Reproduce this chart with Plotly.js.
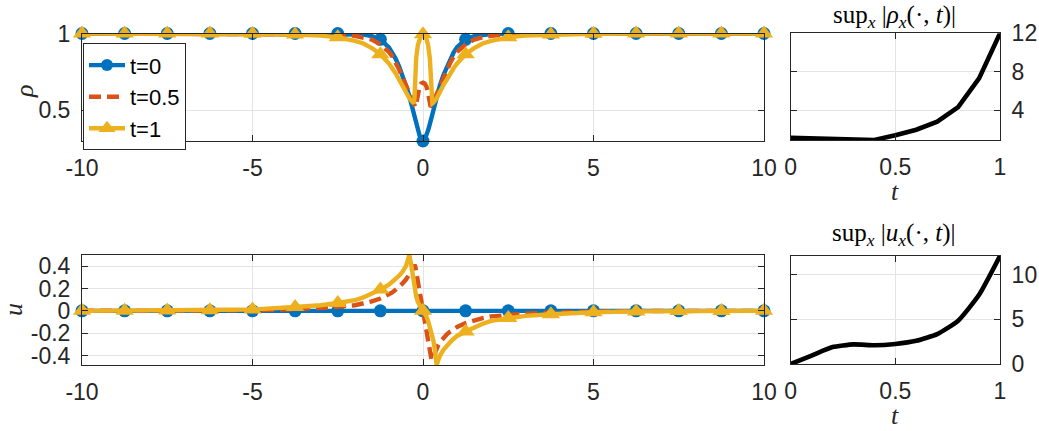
<!DOCTYPE html>
<html><head><meta charset="utf-8">
<script src="https://cdn.plot.ly/plotly-3.0.1.min.js"></script>
<style>html,body{margin:0;padding:0;background:#fff}#chart{width:1039px;height:431px}</style>
</head><body><div id="chart"></div>
<script>
// spatial grid (x)
const xGrid = [-10,-8.75,-7.5,-6.25,-5,-3.75,-3,-2.5,-2,-1.75,-1.5,-1.25,-1,-0.9,-0.8,-0.7,-0.6,-0.5,-0.45,-0.4,-0.35,-0.3,-0.275,-0.25,-0.225,-0.2,-0.15,-0.1,-0.05,
  0,0.05,0.1,0.15,0.2,0.225,0.25,0.275,0.3,0.35,0.4,0.45,0.5,0.6,0.7,0.8,0.9,1,1.25,1.5,1.75,2,2.5,3,3.75,5,6.25,7.5,8.75,10];

// density rho at t = 0, 0.5, 1
const rhoT0 = [1,1,1,1,1,1,1,0.9995,0.997,0.993,0.983,0.962,0.910,0.878,0.835,0.785,0.730,0.665,0.630,0.590,0.545,0.500,0.478,0.455,0.432,0.410,0.370,0.335,0.310,
  0.300,0.310,0.335,0.370,0.410,0.432,0.455,0.478,0.500,0.545,0.590,0.630,0.665,0.730,0.785,0.835,0.878,0.910,0.962,0.983,0.993,0.997,0.9995,1,1,1,1,1,1,1];
const rhoT05 = [1,1,1,1,1,0.999,0.997,0.994,0.985,0.976,0.960,0.930,0.880,0.850,0.810,0.765,0.715,0.665,0.640,0.615,0.585,0.555,0.540,0.527,0.522,0.540,0.610,0.655,0.675,
  0.680,0.675,0.655,0.610,0.540,0.522,0.527,0.540,0.555,0.585,0.615,0.640,0.665,0.715,0.765,0.810,0.850,0.880,0.930,0.960,0.976,0.985,0.994,0.997,0.999,1,1,1,1,1];
const rhoT1 = [1,1,1,1,0.998,0.993,0.986,0.975,0.952,0.935,0.905,0.865,0.805,0.775,0.740,0.700,0.665,0.625,0.600,0.578,0.560,0.548,0.545,0.580,0.720,0.840,0.925,0.965,0.990,
  0.995,0.990,0.965,0.925,0.840,0.720,0.580,0.545,0.548,0.560,0.578,0.600,0.625,0.665,0.700,0.740,0.775,0.805,0.865,0.905,0.935,0.952,0.975,0.986,0.993,0.998,1,1,1,1];

// velocity u at t = 0, 0.5, 1
const uT0 = [0,0,0,0,0,0,0,0,0,0,0,0,0,0,0,0,0,0,0,0,0,0,0,0,0,0,0,0,0,
  0,0,0,0,0,0,0,0,0,0,0,0,0,0,0,0,0,0,0,0,0,0,0,0,0,0,0,0,0,0];
const uT05 = [0,0,0.001,0.002,0.005,0.015,0.025,0.035,0.05,0.065,0.085,0.11,0.145,0.165,0.19,0.215,0.245,0.28,0.30,0.325,0.35,0.38,0.40,0.41,0.395,0.36,0.26,0.175,0.09,
  0,-0.09,-0.18,-0.28,-0.38,-0.42,-0.44,-0.43,-0.41,-0.37,-0.335,-0.305,-0.28,-0.24,-0.21,-0.185,-0.165,-0.145,-0.11,-0.085,-0.065,-0.05,-0.035,-0.025,-0.015,-0.005,-0.002,-0.001,0,0];
const uT1 = [0,0.001,0.002,0.005,0.012,0.035,0.05,0.07,0.095,0.12,0.15,0.19,0.235,0.26,0.285,0.315,0.35,0.40,0.45,0.50,0.42,0.31,0.26,0.21,0.165,0.13,0.08,0.045,0.02,
  0,-0.02,-0.05,-0.09,-0.14,-0.165,-0.19,-0.22,-0.26,-0.35,-0.485,-0.44,-0.40,-0.35,-0.31,-0.28,-0.25,-0.225,-0.185,-0.145,-0.115,-0.09,-0.065,-0.045,-0.03,-0.012,-0.005,-0.002,-0.001,0];

// time history
const tVals = [0,0.1,0.2,0.3,0.4,0.5,0.6,0.7,0.8,0.9,1];
const supRhoX = [1.10,1.06,1.01,0.96,0.88,1.38,1.95,2.80,4.30,7.30,12.0];
const supUX = [0,0.95,1.9,2.2,2.1,2.25,2.6,3.35,4.85,7.75,12.1];

// labels
const seriesNames = ['t=0','t=0.5','t=1'];
const xTicks = [-10,-5,0,5,10];
const xTickText = ['-10','-5','0','5','10'];
const rhoTicks = [0.5,1];
const rhoTickText = ['0.5','1'];
const uTicks = [-0.4,-0.2,0,0.2,0.4];
const uTickText = ['-0.4','-0.2','0','0.2','0.4'];
const tTicks = [0,0.5,1];
const tTickText = ['0','0.5','1'];
const supRhoTicks = [4,8,12];
const supUTicks = [0,5,10];

const colors = ['#0072BD','#D95319','#EDB120'];
const dashes = ['solid','12px,6px','solid'];
const symbols = ['circle','circle','triangle-up'];
const msizes = [13,0,16];
const LW = 4.4;

function onMarkerGrid(x){ return Math.abs(x/1.25 - Math.round(x/1.25)) < 1e-9; }

const traces = [];
function addSeries(ys, i, xa, ya){
  traces.push({x:xGrid, y:ys, xaxis:xa, yaxis:ya, mode:'lines', showlegend:false, cliponaxis:false,
    line:{color:colors[i], width:LW, dash:dashes[i]}, hoverinfo:'skip'});
  if (msizes[i] > 0) {
    const mx = [], my = [];
    xGrid.forEach((x,k)=>{ if(onMarkerGrid(x)){ mx.push(x); my.push(ys[k]); } });
    traces.push({x:mx, y:my, xaxis:xa, yaxis:ya, mode:'markers', showlegend:false, cliponaxis:false,
      marker:{color:colors[i], size:msizes[i], symbol:symbols[i]}, hoverinfo:'skip'});
  }
}
const rhoSets = [rhoT0, rhoT05, rhoT1];
const uSets = [uT0, uT05, uT1];
rhoSets.forEach((ys,i)=>addSeries(ys,i,'x','y'));
uSets.forEach((ys,i)=>addSeries(ys,i,'x2','y2'));
// legend entries
seriesNames.forEach((n,i)=>{
  const tr = {x:[null], y:[null], xaxis:'x', yaxis:'y', name:n, mode: msizes[i]>0 ? 'lines+markers':'lines',
    line:{color:colors[i], width:LW, dash:dashes[i]}};
  if (msizes[i]>0) tr.marker = {color:colors[i], size:msizes[i]-1, symbol:symbols[i]};
  traces.push(tr);
});
traces.push({x:tVals, y:supRhoX, xaxis:'x3', yaxis:'y3', mode:'lines', showlegend:false, cliponaxis:false,
  line:{color:'#000', width:4.6}});
traces.push({x:tVals, y:supUX, xaxis:'x4', yaxis:'y4', mode:'lines', showlegend:false, cliponaxis:false,
  line:{color:'#000', width:4.6, shape:'spline', smoothing:0.5}});

const allRho = rhoT0.concat(rhoT05, rhoT1);
const allU = uT0.concat(uT05, uT1);

const tickFont = {family:'"Liberation Sans", Arial, sans-serif', size:23, color:'#262626'};
function ax(extra){
  return Object.assign({showline:true, mirror:'ticks', linecolor:'#262626', linewidth:1,
    ticks:'inside', ticklen:6, tickcolor:'#262626', tickwidth:1, showgrid:true, gridcolor:'#e4e4e4', gridwidth:1,
    zeroline:false, tickfont:tickFont, tickmode:'array', fixedrange:true}, extra);
}
const xL = [82/1039, 764/1039];
const xR = [790.7/1039, 1000/1039];
const serif = '"Liberation Serif", "DejaVu Serif", serif';

const layout = {
  width:1039, height:431, margin:{l:0,r:0,t:0,b:0}, paper_bgcolor:'#fff', plot_bgcolor:'#fff',
  showlegend:true,
  legend:{x:83/1039, y:1-43.3/431, xanchor:'left', yanchor:'top', bgcolor:'#fff', bordercolor:'#262626', borderwidth:1,
    font:{family:'"Liberation Sans", Arial, sans-serif', size:22, color:'#000'}, itemsizing:'trace', tracegroupgap:0, itemwidth:36},
  xaxis: ax({domain:xL, anchor:'y', range:[-10,10], tickvals:xTicks, ticktext:xTickText, ticklabelstandoff:6}),
  yaxis: ax({domain:[1-141/431, 1-33.5/431], anchor:'x', range:[Math.min(...allRho), Math.max(...allRho)], tickvals:rhoTicks, ticktext:rhoTickText, ticklabelstandoff:6}),
  xaxis2: ax({domain:xL, anchor:'y2', range:[-10,10], tickvals:xTicks, ticktext:xTickText, ticklabelstandoff:6}),
  yaxis2: ax({domain:[1-365/431, 1-255/431], anchor:'x2', range:[Math.min(...allU), Math.max(...allU)], tickvals:uTicks, ticktext:uTickText, ticklabelstandoff:6}),
  xaxis3: ax({domain:xR, anchor:'y3', range:[0,1], tickvals:tTicks, ticktext:tTickText, ticklabelstandoff:6}),
  yaxis3: ax({domain:[1-140/431, 1-33.3/431], anchor:'x3', side:'right', range:[Math.min(...supRhoX), Math.max(...supRhoX)], tickvals:supRhoTicks, ticklabelstandoff:6}),
  xaxis4: ax({domain:xR, anchor:'y4', range:[0,1], tickvals:tTicks, ticktext:tTickText, ticklabelstandoff:6}),
  yaxis4: ax({domain:[1-364/431, 1-256/431], anchor:'x4', side:'right', range:[Math.min(...supUX), Math.max(...supUX)], tickvals:supUTicks, ticklabelstandoff:6}),
  annotations:[
    {xref:'paper', yref:'paper', x:894/1039, y:1-17/431, xanchor:'center', yanchor:'middle', showarrow:false,
     text:'sup<sub><i>x</i></sub> |<i>ρ</i><sub><i>x</i></sub>(·, <i>t</i>)|', font:{family:serif, size:25, color:'#000'}},
    {xref:'paper', yref:'paper', x:894/1039, y:1-234/431, xanchor:'center', yanchor:'middle', showarrow:false,
     text:'sup<sub><i>x</i></sub> |<i>u</i><sub><i>x</i></sub>(·, <i>t</i>)|', font:{family:serif, size:25, color:'#000'}},
    {xref:'paper', yref:'paper', x:895/1039, y:1-191/431, xanchor:'center', yanchor:'middle', showarrow:false,
     text:'<i>t</i>', font:{family:serif, size:26, color:'#262626'}},
    {xref:'paper', yref:'paper', x:895/1039, y:1-415/431, xanchor:'center', yanchor:'middle', showarrow:false,
     text:'<i>t</i>', font:{family:serif, size:26, color:'#262626'}},
    {xref:'paper', yref:'paper', x:25/1039, y:1-92/431, xanchor:'center', yanchor:'middle', showarrow:false, textangle:-90,
     text:'<i>ρ</i>', font:{family:serif, size:26, color:'#262626'}},
    {xref:'paper', yref:'paper', x:13/1039, y:1-310/431, xanchor:'center', yanchor:'middle', showarrow:false, textangle:-90,
     text:'<i>u</i>', font:{family:serif, size:26, color:'#262626'}}
  ]
};
Plotly.newPlot('chart', traces, layout, {displayModeBar:false, staticPlot:true});
</script>
</body></html>
